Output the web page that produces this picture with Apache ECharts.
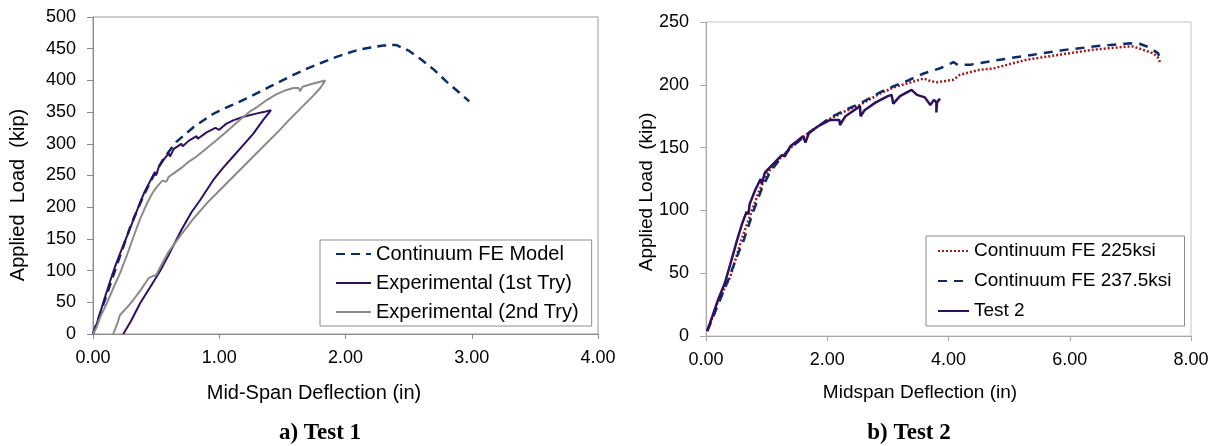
<!DOCTYPE html>
<html>
<head>
<meta charset="utf-8">
<script src="https://cdn.jsdelivr.net/npm/echarts@6/dist/echarts.min.js"></script>
<style>
html,body{margin:0;padding:0;background:#fff;}
#c{width:1215px;height:446px;}
</style>
</head>
<body>
<div id="c"></div>
<script>
// ---------- Test 1 data: [deflection (in), load (kip)] ----------
var test1FeModel = [[0,0],[0.1,57],[0.2,115],[0.3,172],[0.4,218],[0.48,250],[0.56,277],[0.66,303],[0.8,327],[0.95,347],[1.0,352],[1.1,361],[1.2,370],[1.3,380],[1.4,390],[1.5,400],[1.6,410],[1.7,419],[1.8,427],[1.9,435],[2.0,442],[2.1,448],[2.2,452],[2.3,455],[2.4,456],[2.5,447],[2.6,433],[2.7,417],[2.8,398],[2.9,381],[2.98,367]];
var test1Exp1 = [[0,0],[0.04,22],[0.082,50],[0.13,80],[0.174,106],[0.22,130],[0.267,153],[0.32,180],[0.372,207],[0.41,225],[0.45,240],[0.49,255],[0.5,250],[0.52,263],[0.56,275],[0.6,285],[0.61,280],[0.64,292],[0.7,300],[0.71,296],[0.76,305],[0.82,312],[0.83,308],[0.9,318],[0.97,325],[1.0,322],[1.05,331],[1.11,337],[1.2,343],[1.3,348],[1.35,350],[1.41,353],[1.415,353],[1.35,338],[1.27,316],[1.19,298],[1.11,280],[1.03,262],[0.953,243],[0.848,211],[0.78,192],[0.7,164],[0.6,125],[0.53,99],[0.45,73],[0.372,48],[0.3,20],[0.24,0]];
var test1Exp2 = [[0,0],[0.029,11],[0.06,28],[0.108,48],[0.16,72],[0.214,96],[0.27,125],[0.32,153],[0.37,180],[0.425,205],[0.47,222],[0.505,232],[0.55,242],[0.58,240],[0.6,248],[0.636,253],[0.7,262],[0.76,272],[0.82,280],[0.9,293],[0.98,306],[1.05,318],[1.164,338],[1.25,352],[1.3,358],[1.376,369],[1.45,378],[1.52,384],[1.587,388],[1.63,388],[1.64,383],[1.66,390],[1.745,395],[1.8,398],[1.84,400],[1.84,399],[1.8,388],[1.745,376],[1.65,357],[1.55,337],[1.48,322],[1.37,300],[1.25,276],[1.11,248],[1.0,226],[0.91,208],[0.8,183],[0.7,157],[0.6,130],[0.55,112],[0.5,93],[0.47,91],[0.44,88],[0.38,70],[0.32,54],[0.27,42],[0.214,30],[0.19,15],[0.16,0]];

// ---------- Test 2 data ----------
var test2Fe225 = [[0.02,4],[0.1,14],[0.2,28],[0.4,47],[0.58,76],[0.75,99],[0.88,116],[1.02,130],[1.17,139],[1.4,150],[1.65,160],[1.85,167],[2.05,173],[2.3,179],[2.54,184],[2.87,193],[3.1,198],[3.31,201],[3.59,205],[3.7,203],[3.81,202],[4.08,204],[4.19,208],[4.52,212],[4.74,213],[5.29,220],[5.84,224],[6.39,228],[6.94,230.4],[7.05,230.4],[7.2,228],[7.38,225],[7.45,222],[7.49,218]];
var test2Fe2375 = [[0.02,4],[0.1,13],[0.2,25],[0.37,45],[0.5,62],[0.62,76],[0.78,99],[0.91,116],[1.05,130],[1.19,139],[1.4,150],[1.65,160],[1.85,167],[2.05,174],[2.3,180],[2.54,185],[2.87,194],[3.1,199],[3.31,203],[3.59,209],[3.85,213],[4.0,216],[4.08,218],[4.15,216],[4.36,216],[4.85,220],[5.4,224],[5.95,228],[6.5,231],[7.0,233],[7.16,232.5],[7.3,230],[7.46,225],[7.47,223]];
var test2Exp = [[0.02,4],[0.1,15],[0.2,29],[0.31,42],[0.4,57],[0.51,76],[0.6,90],[0.67,99],[0.7,97],[0.72,105],[0.81,116],[0.9,125],[0.92,121],[0.97,130],[1.07,135],[1.17,140],[1.25,144],[1.3,143],[1.39,151],[1.5,155],[1.6,159],[1.63,160],[1.64,154],[1.7,162],[1.85,167],[2.05,172],[2.2,172],[2.21,168],[2.3,175],[2.45,180],[2.54,183],[2.55,175],[2.62,180],[2.8,186],[3.0,191],[3.06,192],[3.09,185],[3.2,191],[3.39,196],[3.48,192],[3.61,190],[3.7,184],[3.76,188],[3.8,186],[3.8,178],[3.81,186],[3.86,189]];

var namesTest1 = ['Continuum FE Model','Experimental (1st Try)','Experimental (2nd Try)'];
var namesTest2 = ['Continuum FE 225ksi','Continuum FE 237.5ksi','Test 2'];
var xTitles = ['Mid-Span Deflection (in)','Midspan Deflection (in)'];
var yTitles = ['Applied  Load  (kip)','Applied Load  (kip)'];
var subTitles = ['a) Test 1','b) Test 2'];

var FONT = '"Liberation Sans", Arial, sans-serif';
var chart = echarts.init(document.getElementById('c'), null, {renderer:'canvas'});

function xAxisCfg(gi, max, interval, color){
  return {
    type:'value', gridIndex:gi, min:0, max:max, interval:interval,
    axisLine:{show:true, onZero:false, lineStyle:{color:color, width:1}},
    axisTick:{show:true, inside:false, length:5, lineStyle:{color:color}},
    splitLine:{show:false},
    axisLabel:{fontFamily:FONT, fontSize:18, color:'#000', margin:15,
      formatter:function(v){return v.toFixed(2);}}
  };
}
function yAxisCfg(gi, max, color){
  return {
    type:'value', gridIndex:gi, min:0, max:max, interval:50,
    axisLine:{show:true, onZero:false, lineStyle:{color:color, width:1}},
    axisTick:{show:true, inside:false, length:6, lineStyle:{color:color}},
    splitLine:{show:false},
    axisLabel:{fontFamily:FONT, fontSize:18, color:'#000', margin:17}
  };
}
function lineSeries(name, data, xi, color, width, type){
  return {
    name:name, type:'line', xAxisIndex:xi, yAxisIndex:xi, data:data,
    symbol:'none', showSymbol:false, smooth:false, animation:false,
    lineStyle:{color:color, width:width, type:type},
    itemStyle:{color:color}
  };
}

var NAVY = '#0b2c6b', PURPLE = '#2f0f62', GRAY = '#8a8a8a', RED = '#a11a1a';

chart.setOption({
  backgroundColor:'#fff',
  animation:false,
  grid:[
    {left:93, top:17, width:505, height:317, show:true, borderColor:'#9a9a9a', borderWidth:1, backgroundColor:'transparent'},
    {left:706, top:22, width:485, height:314, show:true, borderColor:'#c4c4c4', borderWidth:1, backgroundColor:'transparent'}
  ],
  xAxis:[xAxisCfg(0, 4, 1, '#8c8c8c'), xAxisCfg(1, 8, 2, '#a8a8a8')],
  yAxis:[yAxisCfg(0, 500, '#8c8c8c'), yAxisCfg(1, 250, '#a8a8a8')],
  legend:[
    {data:namesTest1, orient:'vertical', left:320, top:240,
     padding:[3,13,3,15], itemWidth:35, itemHeight:14, itemGap:7,
     itemStyle:{opacity:0},
     borderColor:'#8c8c8c', borderWidth:1, backgroundColor:'#fff',
     textStyle:{fontFamily:FONT, fontSize:20, color:'#000', lineHeight:22}},
    {data:namesTest2, orient:'vertical', left:926, top:236,
     padding:[4,13,4,11], itemWidth:31, itemHeight:14, itemGap:8,
     itemStyle:{opacity:0},
     borderColor:'#8c8c8c', borderWidth:1, backgroundColor:'#fff',
     textStyle:{fontFamily:FONT, fontSize:19, color:'#000', lineHeight:22}}
  ],
  series:[
    lineSeries(namesTest1[0], test1FeModel, 0, NAVY, 2.5, [9,6]),
    lineSeries(namesTest1[1], test1Exp1, 0, PURPLE, 2, 'solid'),
    lineSeries(namesTest1[2], test1Exp2, 0, GRAY, 2, 'solid'),
    lineSeries(namesTest2[0], test2Fe225, 1, RED, 2.5, [2,2]),
    lineSeries(namesTest2[1], test2Fe2375, 1, NAVY, 2.5, [9,7]),
    lineSeries(namesTest2[2], test2Exp, 1, PURPLE, 2.5, 'solid')
  ],
  graphic:[
    {type:'text', x:18, y:195, rotation:Math.PI/2,
     style:{text:yTitles[0], font:'20px '+FONT, fill:'#000', align:'center', verticalAlign:'middle'}},
    {type:'text', x:647, y:192, rotation:Math.PI/2,
     style:{text:yTitles[1], font:'19px '+FONT, fill:'#000', align:'center', verticalAlign:'middle'}},
    {type:'text', x:314, y:393,
     style:{text:xTitles[0], font:'20px '+FONT, fill:'#000', align:'center', verticalAlign:'middle'}},
    {type:'text', x:920, y:393,
     style:{text:xTitles[1], font:'19px '+FONT, fill:'#000', align:'center', verticalAlign:'middle'}},
    {type:'text', x:320, y:433,
     style:{text:subTitles[0], font:'bold 23px "Liberation Serif", "Times New Roman", serif', fill:'#000', align:'center', verticalAlign:'middle'}},
    {type:'text', x:909, y:433,
     style:{text:subTitles[1], font:'bold 23px "Liberation Serif", "Times New Roman", serif', fill:'#000', align:'center', verticalAlign:'middle'}}
  ]
});
</script>
</body>
</html>
